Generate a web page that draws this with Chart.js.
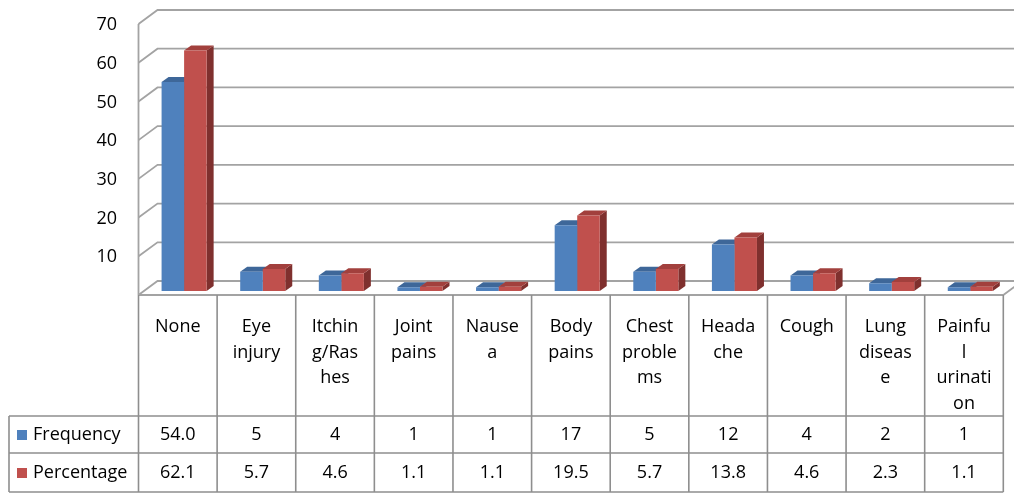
<!DOCTYPE html>
<html>
<head>
<meta charset="utf-8">
<script src="https://cdn.jsdelivr.net/npm/chart.js@4"></script>
<style>
  html, body { margin: 0; padding: 0; background: #fff; }
  canvas { display: block; }
</style>
</head>
<body>
<canvas id="chart" width="1014" height="494"></canvas>
<script>
// Reported health problems: counts and share of respondents
const categories = [
  ['None'], ['Eye', 'injury'], ['Itchin', 'g/Ras', 'hes'], ['Joint', 'pains'],
  ['Nause', 'a'], ['Body', 'pains'], ['Chest', 'proble', 'ms'], ['Heada', 'che'],
  ['Cough'], ['Lung', 'diseas', 'e'], ['Painfu', 'l', 'urinati', 'on']
];
const frequency = [54.0, 5, 4, 1, 1, 17, 5, 12, 4, 2, 1];
const frequencyDigits = [1, 0, 0, 0, 0, 0, 0, 0, 0, 0, 0];
const percentage = [62.1, 5.7, 4.6, 1.1, 1.1, 19.5, 5.7, 13.8, 4.6, 2.3, 1.1];
const seriesNames = ['Frequency', 'Percentage'];
const yTicks = [10, 20, 30, 40, 50, 60, 70];

const FONT = '18px "Open Sans", "Liberation Sans", sans-serif';
const COLORS = {
  front: ['#4f81bd', '#c0504d'],
  top:   ['#3e6799', '#a2403d'],
  side:  ['#385d8a', '#7f302e']
};
// Perspective offsets
const BAR_SHIFT = { x: 6.3, y: -4 };     // bar plane relative to front plane
const WALL_DEPTH = { x: 19, y: -14 };    // back wall relative to front plane
const BAR_DEPTH = { x: 7, y: -5 };       // thickness of each column

const GRID = '#a3a3a3';
const TABLE_LINE = '#8e8e8e';
const TABLE = { left: 9, headerBottom: 416, row1Bottom: 453, bottom: 492 };

function frontX(px) { return px - BAR_SHIFT.x; }
function frontY(py) { return py - BAR_SHIFT.y; }

function line(ctx, pts) {
  ctx.beginPath();
  ctx.moveTo(pts[0][0], pts[0][1]);
  for (let i = 1; i < pts.length; i++) ctx.lineTo(pts[i][0], pts[i][1]);
  ctx.stroke();
}
function poly(ctx, pts, fill) {
  ctx.beginPath();
  ctx.moveTo(pts[0][0], pts[0][1]);
  for (let i = 1; i < pts.length; i++) ctx.lineTo(pts[i][0], pts[i][1]);
  ctx.closePath();
  ctx.fillStyle = fill;
  ctx.fill();
}

const box3d = {
  id: 'box3d',
  beforeDatasetsDraw(chart) {
    const { ctx, chartArea, scales } = chart;
    const y = scales.y;
    const xl = frontX(chartArea.left);
    const xr = frontX(chartArea.right);
    const y0 = frontY(y.getPixelForValue(0));
    const yTop = frontY(y.getPixelForValue(y.max));

    ctx.save();
    ctx.strokeStyle = GRID;
    ctx.lineWidth = 1.8;
    // side wall diagonals and back wall gridlines
    y.ticks.forEach(t => {
      const fy = frontY(y.getPixelForValue(t.value));
      line(ctx, [[xl, fy], [xl + WALL_DEPTH.x, fy + WALL_DEPTH.y], [xr + WALL_DEPTH.x, fy + WALL_DEPTH.y]]);
    });
    // front edge of the side wall
    line(ctx, [[xl, yTop], [xl, y0]]);
    // floor front edge and right edge
    line(ctx, [[xl, y0], [xr, y0], [xr + WALL_DEPTH.x, y0 + WALL_DEPTH.y]]);

    // column tops and sides (front faces are drawn by the library)
    chart.data.datasets.forEach((ds, di) => {
      chart.getDatasetMeta(di).data.forEach(el => {
        const l = el.x - el.width / 2, r = el.x + el.width / 2;
        const t = el.y, b = el.base;
        poly(ctx, [[r, t], [r + BAR_DEPTH.x, t + BAR_DEPTH.y], [r + BAR_DEPTH.x, b + BAR_DEPTH.y], [r, b]], COLORS.side[di]);
        poly(ctx, [[l, t], [r, t], [r + BAR_DEPTH.x, t + BAR_DEPTH.y], [l + BAR_DEPTH.x, t + BAR_DEPTH.y]], COLORS.top[di]);
      });
    });
    ctx.restore();
  },
  afterDraw(chart) {
    // data table under the plot
    const { ctx, chartArea, scales } = chart;
    const x = scales.x, y = scales.y;
    const cw = x.getPixelForValue(1) - x.getPixelForValue(0);
    const xr = frontX(chartArea.right);
    const y0 = frontY(y.getPixelForValue(0));

    ctx.save();
    ctx.strokeStyle = TABLE_LINE;
    ctx.lineWidth = 1.6;
    for (let k = 0; k <= categories.length; k++) {
      const cx = k < categories.length ? frontX(x.getPixelForValue(k)) - cw / 2 : xr;
      line(ctx, [[cx, y0], [cx, TABLE.bottom]]);
    }
    line(ctx, [[TABLE.left, TABLE.headerBottom], [xr, TABLE.headerBottom]]);
    line(ctx, [[TABLE.left, TABLE.row1Bottom], [xr, TABLE.row1Bottom]]);
    line(ctx, [[TABLE.left, TABLE.bottom], [xr, TABLE.bottom]]);
    line(ctx, [[TABLE.left, TABLE.headerBottom], [TABLE.left, TABLE.bottom]]);

    ctx.font = FONT;
    ctx.fillStyle = '#000';
    ctx.textAlign = 'center';
    ctx.textBaseline = 'middle';
    const rowsY = [435, 473];
    categories.forEach((lines, i) => {
      const cx = frontX(x.getPixelForValue(i));
      lines.forEach((s, li) => ctx.fillText(s, cx, 327 + li * 25.5));
      ctx.fillText(frequency[i].toFixed(frequencyDigits[i]), cx, rowsY[0]);
      ctx.fillText(percentage[i].toFixed(1), cx, rowsY[1]);
    });

    // legend keys in the first column
    ctx.textAlign = 'left';
    seriesNames.forEach((name, si) => {
      ctx.fillStyle = COLORS.front[si];
      ctx.fillRect(17, rowsY[si] - 5, 10, 10);
      ctx.fillStyle = '#000';
      ctx.fillText(name, 33, rowsY[si]);
    });
    ctx.restore();
  }
};

new Chart(document.getElementById('chart'), {
  type: 'bar',
  data: {
    labels: categories,
    datasets: [
      { label: seriesNames[0], data: frequency, backgroundColor: COLORS.front[0] },
      { label: seriesNames[1], data: percentage, backgroundColor: COLORS.front[1] }
    ]
  },
  options: {
    responsive: false,
    animation: false,
    layout: { padding: { left: 0, top: 20, right: 4.4, bottom: 203 } },
    datasets: { bar: { categoryPercentage: 0.573, barPercentage: 1, borderWidth: 0 } },
    plugins: { legend: { display: false }, tooltip: { enabled: false } },
    scales: {
      x: { display: false },
      y: {
        min: 0, max: 70,
        afterFit(scale) {
          scale.width = 144.8;
          scale.paddingTop = 0;
          scale.paddingBottom = 0;
        },
        grid: { display: false, drawTicks: false },
        border: { display: false },
        ticks: {
          stepSize: 10,
          padding: 27.8,
          labelOffset: 5,
          color: '#000',
          font: { family: '"Open Sans", "Liberation Sans", sans-serif', size: 18 },
          callback: v => yTicks.includes(v) ? String(v) : ''
        }
      }
    }
  },
  plugins: [box3d]
});
</script>
</body>
</html>
